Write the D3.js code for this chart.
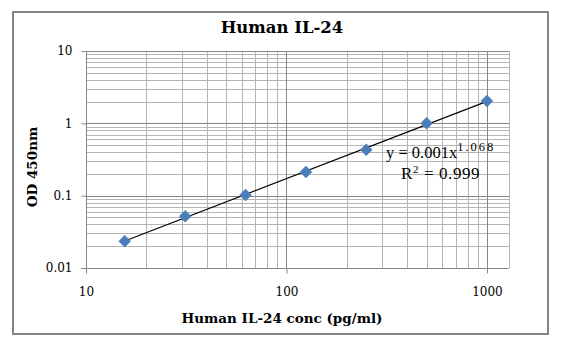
<!DOCTYPE html>
<html><head><meta charset="utf-8">
<script src="https://cdn.jsdelivr.net/npm/d3@7"></script>
<style>html,body{margin:0;padding:0;background:#fff;}svg{display:block;}</style>
</head><body>
<script>
const title = "Human IL-24";
const xLabel = "Human IL-24 conc (pg/ml)";
const yLabel = "OD 450nm";
const concentrations = [15.6, 31.25, 62.5, 125, 250, 500, 1000];
const odValues = [0.0235, 0.052, 0.102, 0.213, 0.43, 1.0, 2.04];
const xTickValues = [10, 100, 1000];
const yTickValues = [0.01, 0.1, 1, 10];
const yTickLabels = ["0.01", "0.1", "1", "10"];
const equationText = ["y = 0.001x", "1.068"];
const r2Text = ["R", "2", " = 0.999"];

(function () {
const W = 564, H = 349;
const svg = d3.select("body").append("svg").attr("width", W).attr("height", H);
svg.append("rect").attr("width", W).attr("height", H).attr("fill", "#fff");
svg.append("rect").attr("x", 13).attr("y", 12).attr("width", 535).attr("height", 322)
  .attr("fill", "none").attr("stroke", "#858585").attr("stroke-width", 2);

const pL = 86, pR = 509, pT = 51, pB = 268;
const x = d3.scaleLog().domain([10, 1288]).range([pL, pR]);
const y = d3.scaleLog().domain([0.01, 10]).range([pB, pT]);

const g = svg.append("g");
const xMinor = [], yMinor = [];
for (let d = 10; d < 1000; d *= 10) for (let k = 2; k <= 9; k++) xMinor.push(d * k);
for (let d = 0.01; d < 10; d *= 10) for (let k = 2; k <= 9; k++) yMinor.push(d * k);
g.selectAll(".ym").data(yMinor).enter().append("line")
  .attr("x1", pL).attr("x2", pR).attr("y1", d => Math.round(y(d)) + 0.5).attr("y2", d => Math.round(y(d)) + 0.5)
  .attr("stroke", "#b4b4b4").attr("stroke-width", 1);
g.selectAll(".xm").data(xMinor).enter().append("line")
  .attr("y1", pT).attr("y2", pB).attr("x1", d => Math.round(x(d)) + 0.5).attr("x2", d => Math.round(x(d)) + 0.5)
  .attr("stroke", "#b4b4b4").attr("stroke-width", 1);
g.selectAll(".yM").data(yTickValues).enter().append("line")
  .attr("x1", pL).attr("x2", pR).attr("y1", d => Math.round(y(d)) + 0.5).attr("y2", d => Math.round(y(d)) + 0.5)
  .attr("stroke", "#868686").attr("stroke-width", 1);
g.selectAll(".xM").data(xTickValues).enter().append("line")
  .attr("y1", pT).attr("y2", pB).attr("x1", d => Math.round(x(d)) + 0.5).attr("x2", d => Math.round(x(d)) + 0.5)
  .attr("stroke", "#868686").attr("stroke-width", 1);
g.append("line").attr("x1", pR + 0.5).attr("x2", pR + 0.5).attr("y1", pT).attr("y2", pB)
  .attr("stroke", "#b4b4b4");

const yAxis = d3.axisLeft(y).tickValues(yTickValues).tickFormat((d, i) => yTickLabels[i]).tickSize(5).tickPadding(9);
const yg = svg.append("g").attr("transform", `translate(${pL + 0.5},0)`).call(yAxis);
const xAxis = d3.axisBottom(x).tickValues(xTickValues).tickFormat(d3.format("d")).tickSize(5).tickPadding(14);
const xg = svg.append("g").attr("transform", `translate(0,${pB + 0.5})`).call(xAxis);
[yg, xg].forEach(ax => {
  ax.select(".domain").remove();
  ax.selectAll(".tick line").attr("stroke", "#868686");
  ax.selectAll("text").attr("font-family", "DejaVu Serif").attr("font-size", 12).attr("fill", "#000");
});
svg.append("line").attr("x1", pL + 0.5).attr("x2", pL + 0.5).attr("y1", pT).attr("y2", pB + 5).attr("stroke", "#868686");
svg.append("line").attr("x1", pL - 5).attr("x2", pR).attr("y1", pB + 0.5).attr("y2", pB + 0.5).attr("stroke", "#868686");

const lx = concentrations.map(Math.log10), ly = odValues.map(Math.log10);
const mx = d3.mean(lx), my = d3.mean(ly);
const b = d3.sum(lx.map((v, i) => (v - mx) * (ly[i] - my))) / d3.sum(lx.map(v => (v - mx) ** 2));
const a = Math.pow(10, my - b * mx);
const xs = [concentrations[0], concentrations[concentrations.length - 1]];
svg.append("line")
  .attr("x1", x(xs[0])).attr("y1", y(a * Math.pow(xs[0], b)))
  .attr("x2", x(xs[1])).attr("y2", y(a * Math.pow(xs[1], b)))
  .attr("stroke", "#000").attr("stroke-width", 1.2);

const s = 6;
svg.selectAll(".pt").data(concentrations).enter().append("path")
  .attr("d", `M0,${-s}L${s},0L0,${s}L${-s},0Z`)
  .attr("transform", (d, i) => `translate(${x(d)},${y(odValues[i])})`)
  .attr("fill", "#4a7ebb").attr("stroke", "#4a7ebb").attr("stroke-width", 0.5);

const eq = svg.append("text").attr("x", 386).attr("y", 158)
  .attr("font-family", "Liberation Serif").attr("font-size", 16.5).attr("fill", "#000");
eq.append("tspan").text(equationText[0]);
eq.append("tspan").attr("dy", -7).attr("font-size", 12.5).attr("letter-spacing", 2).text(equationText[1]);
const r2 = svg.append("text").attr("x", 401).attr("y", 179)
  .attr("font-family", "Liberation Serif").attr("font-size", 17).attr("letter-spacing", 0.6).attr("fill", "#000");
r2.append("tspan").text(r2Text[0]);
r2.append("tspan").attr("dy", -6).attr("font-size", 11).text(r2Text[1]);
r2.append("tspan").attr("dy", 6).text(r2Text[2]);

svg.append("text").attr("x", 282).attr("y", 33).attr("text-anchor", "middle")
  .attr("font-family", "DejaVu Serif").attr("font-weight", "bold").attr("font-size", 16.5).attr("fill", "#000").text(title);
svg.append("text").attr("x", 282).attr("y", 323).attr("text-anchor", "middle")
  .attr("font-family", "DejaVu Serif").attr("font-weight", "bold").attr("font-size", 13.5).attr("fill", "#000").text(xLabel);
svg.append("text").attr("transform", "translate(37,167) rotate(-90)").attr("text-anchor", "middle")
  .attr("font-family", "DejaVu Serif").attr("font-weight", "bold").attr("font-size", 13.5).attr("fill", "#000").text(yLabel);
})();
</script>
</body></html>
